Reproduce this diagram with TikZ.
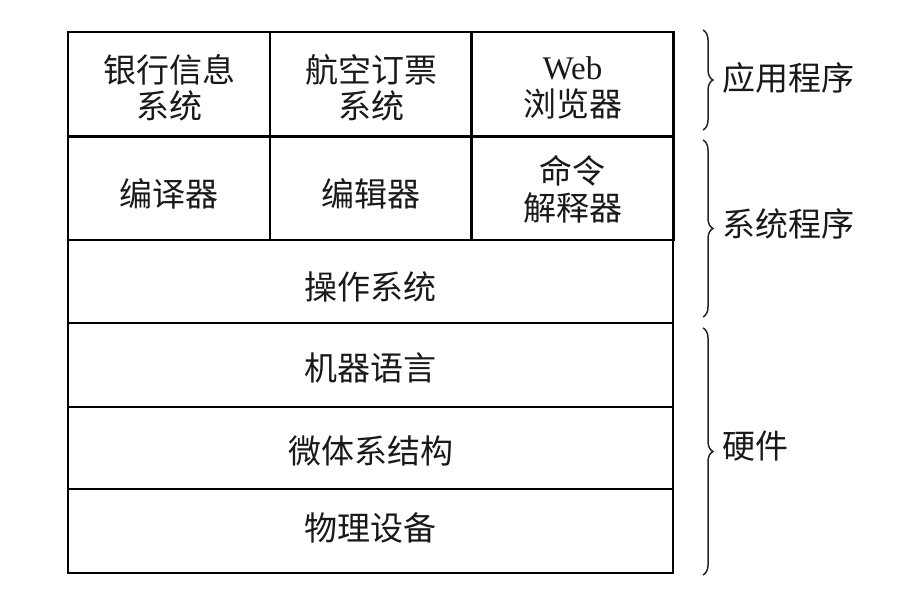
\documentclass[tikz,border=0pt]{standalone}
\usepackage{fontspec}
\newfontfamily\cjk{Noto Sans CJK SC}
\newfontfamily\lat{Liberation Serif}
\usetikzlibrary{decorations.pathreplacing}
\newcommand{\dn}[2]{\raisebox{-#1}[\height][\depth]{#2}}
\begin{document}
\begin{tikzpicture}[x=1pt,y=-1pt,
  cell/.style={draw=black, line width=2.8pt, rectangle, inner sep=0pt,
    align=center, font=\cjk\fontsize{33}{36}\selectfont, text=black!90},
  small/.style={cell, minimum width=202pt, minimum height=104pt},
  mid/.style={cell, minimum width=202pt, minimum height=103pt},
  wide/.style={cell, minimum width=605pt},
  lbl/.style={anchor=west, inner sep=0pt, font=\cjk\fontsize{33}{36}\selectfont, text=black!90},
  bracestyle/.style={draw=black!85, line width=1.5pt, decorate,
    decoration={brace, amplitude=10pt}}]
\useasboundingbox (0,0) rectangle (900,603);
% row 1
\node[small] (bank) at (169,84) {\dn{8pt}{\begin{tabular}{@{}c@{}}银行信息\\[-2pt]系统\end{tabular}}};
\node[small] (air) at (371,84) {\dn{8pt}{\begin{tabular}{@{}c@{}}航空订票\\[-2pt]系统\end{tabular}}};
\node[small] (web) at (572.5,84) {\dn{7pt}{\begin{tabular}{@{}c@{}}{\lat Web}\\[-2pt]浏览器\end{tabular}}};
% row 2
\node[mid] (comp) at (169,188.5) {\dn{5pt}{编译器}};
\node[mid] (edit) at (371,188.5) {\dn{5pt}{编辑器}};
\node[mid] (cmd) at (572.5,188.5) {\dn{5pt}{\begin{tabular}{@{}c@{}}命令\\[-2pt]解释器\end{tabular}}};
% rows 3-6
\node[wide, minimum height=83pt] (os) at (370.5,281.5) {\dn{5pt}{操作系统}};
\node[wide, minimum height=84pt] (ml) at (370.5,365) {\dn{3pt}{机器语言}};
\node[wide, minimum height=82pt] (micro) at (370.5,448) {\dn{3pt}{微体系结构}};
\node[wide, minimum height=84pt] (phys) at (370.5,531) {\dn{-3pt}{物理设备}};
% braces
\coordinate (b1s) at (703,30);
\coordinate (b1e) at (703,130);
\coordinate (b2s) at (703,140);
\coordinate (b2e) at (703,317);
\coordinate (b3s) at (703,328);
\coordinate (b3e) at (703,575);
\draw[bracestyle] (b1s) -- (b1e);
\draw[bracestyle] (b2s) -- (b2e);
\draw[bracestyle] (b3s) -- (b3e);
\node[lbl] (app) at (722,78) {应用程序};
\node[lbl] (sys) at (722,224) {系统程序};
\node[lbl] (hw) at (722,446) {硬件};
\end{tikzpicture}
\end{document}
